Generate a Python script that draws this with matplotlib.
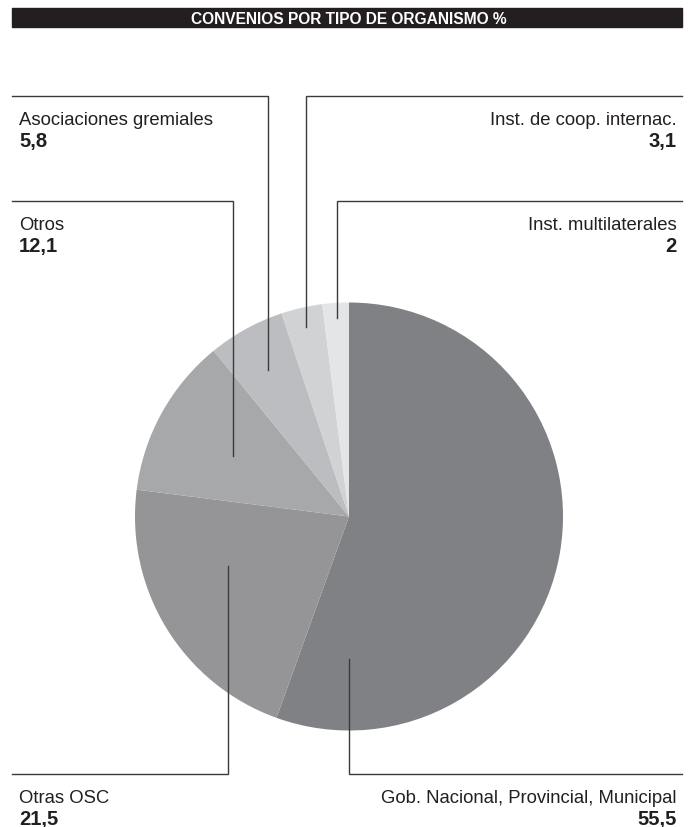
import matplotlib
matplotlib.use("Agg")
import matplotlib.pyplot as plt
from matplotlib.patches import Rectangle

# datos
labels = ["Gob. Nacional, Provincial, Municipal", "Otras OSC", "Otros",
          "Asociaciones gremiales", "Inst. de coop. internac.", "Inst. multilaterales"]
values = [55.5, 21.5, 12.1, 5.8, 3.1, 2]
value_text = ["55,5", "21,5", "12,1", "5,8", "3,1", "2"]
colors = ["#808185", "#959598", "#a7a8aa", "#bcbdc0", "#d1d2d4", "#e4e5e7"]

title = "CONVENIOS POR TIPO DE ORGANISMO %"

W, H = 695, 828
fig = plt.figure(figsize=(W / 100, H / 100), dpi=100)
ax = fig.add_axes([0, 0, 1, 1])

# y axis is inverted (pixel coords), so angle -90 points up and
# counterclock=True runs clockwise on screen
cx, cy, r = 349, 517.5, 214
ax.pie(values, colors=colors, startangle=-90, counterclock=True,
       center=(cx, cy), radius=r,
       wedgeprops=dict(linewidth=0))
ax.set_xlim(0, W)
ax.set_ylim(H, 0)
ax.set_aspect("equal")
ax.axis("off")

# barra de titulo
ax.add_patch(Rectangle((12, 9), 670, 19, color="#231f20", zorder=5))
ax.text(349, 19, title, color="white", ha="center", va="center",
        fontsize=11.2, fontweight="bold", zorder=6,
        family=["Liberation Sans", "DejaVu Sans"])

# leader lines: (anchor x, anchor y, line y, end x, text side)
leaders = [
    (349, 660, 775, 682, "right"),
    (228, 567, 775, 12, "left"),
    (233, 457, 202, 12, "left"),
    (268, 371, 97, 12, "left"),
    (306, 328, 97, 682, "right"),
    (337, 319, 202, 682, "right"),
]

font = ["Liberation Sans", "DejaVu Sans"]
for lab, vt, (axx, ayy, ly, ex, side) in zip(labels, value_text, leaders):
    ax.plot([axx, axx, ex], [ayy, ly, ly], color="#3a3a3a", lw=1.0,
            solid_joinstyle="miter", zorder=4)
    tx = 19 if side == "left" else 677
    ty = ly + 23.5
    ax.text(tx, ty, lab, ha=side, va="center", fontsize=13.3,
            color="#231f20", family=font)
    ax.text(tx, ty + 21, vt, ha=side, va="center", fontsize=14.5,
            fontweight="bold", color="#231f20", family=font)

fig.savefig("out.png", dpi=100)
